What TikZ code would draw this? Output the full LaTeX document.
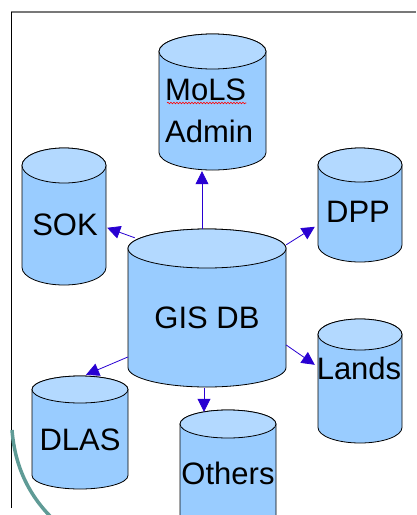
\documentclass[tikz,border=0pt]{standalone}
\usepackage{fontspec}
\setmainfont{Liberation Sans}
\usetikzlibrary{arrows.meta,calc,decorations.pathmorphing}

\definecolor{drumbody}{RGB}{153,204,255}
\definecolor{drumtop}{RGB}{179,217,255}
\definecolor{linkblue}{RGB}{40,0,210}
\definecolor{framegray}{RGB}{120,120,120}
\definecolor{tealarc}{RGB}{95,155,150}

\tikzset{
  drumline/.style={draw=black, line width=0.8pt},
  link/.style={draw=linkblue, line width=0.8pt, -{Triangle[length=13pt,width=13pt]}},
  lbl/.style={font=\fontsize{31}{34}\selectfont, inner sep=0pt, anchor=base},
}

% database drum: #1 name, #2 centre x, #3 top y, #4 bottom y, #5 x radius, #6 y radius
\newcommand\drum[6]{%
  \draw[drumline, fill=drumbody]
    ({#2-#5},{#3+#6}) -- ({#2-#5},{#4-#6})
    arc[start angle=180, end angle=360, x radius=#5pt, y radius=#6pt]
    -- ({#2+#5},{#3+#6})
    arc[start angle=0, end angle=180, x radius=#5pt, y radius=#6pt] -- cycle;
  \draw[drumline, fill=drumtop] (#2,{#3+#6}) ellipse[x radius=#5pt, y radius=#6pt];
  \node[inner sep=0pt, minimum width={2*#5pt}, minimum height={(#4-#3)*1pt}]
    (#1) at (#2,{(#3+#4)/2}) {};
}

\begin{document}
\begin{tikzpicture}[x=1pt, y=-1pt]
  \useasboundingbox (0,0) rectangle (416,515);
  \clip (0,0) rectangle (416,515);

  % frame
  \draw[framegray, line width=1.5pt] (11,12) -- (416,12);
  \draw[black, line width=0.9pt] (11,12) -- (11,508);
  \draw[tealarc, line width=3.5pt] (12,430) .. controls (15,468) and (30,497) .. (54,520);

  % databases
  \drum{mols}{212.5}{34}{170}{53.5}{17.5}
  \drum{sok}{64}{148}{285}{42}{17.5}
  \drum{dpp}{360}{148}{262}{42}{17}
  \drum{gis}{207}{229}{387}{79}{19.5}
  \drum{lands}{360}{319}{443}{42}{15.5}
  \drum{dlas}{80}{376}{489}{48}{13.5}
  \drum{others}{228}{410}{545}{48}{14}

  % labels
  \node[lbl, anchor=base west] (molsA) at (165,100) {MoLS};
  \node[lbl, anchor=base west] (molsB) at (165,142) {Admin};
  \draw[red, line width=0.6pt, decorate, decoration={snake, amplitude=0.8pt, segment length=3pt}]
    ($(molsA.base west)+(2,3)$) -- ($(molsA.base east)+(0,3)$);
  \node[lbl] (sokL) at (65,235) {SOK};
  \node[lbl] (dppL) at (358,222) {DPP};
  \node[lbl] (gisL) at (207,328) {GIS DB};
  \node[lbl] (landsL) at (359,379) {Lands};
  \node[lbl] (dlasL) at (80,450) {DLAS};
  \node[lbl] (othersL) at (228,484) {Others};

  % links from the central database
  \draw[link] ($(gis.north)+(-5,0)$) -- ($(mols.south)+(-10.5,1)$);
  \draw[link] ($(gis.north west)+(7,9)$) -- ($(sok.north east)+(1,80)$);
  \draw[link] ($(gis.north east)+(0,16)$) -- ($(dpp.north west)+(-3,79)$);
  \draw[link] ($(gis.east)+(0,37)$) -- ($(lands.north west)+(-3,46)$);
  \draw[link] ($(gis.west)+(0,49)$) -- ($(dlas.north)+(6,-1)$);
  \draw[link] ($(gis.south)+(-3,1)$) -- ($(others.north)+(-24,2)$);
\end{tikzpicture}
\end{document}
